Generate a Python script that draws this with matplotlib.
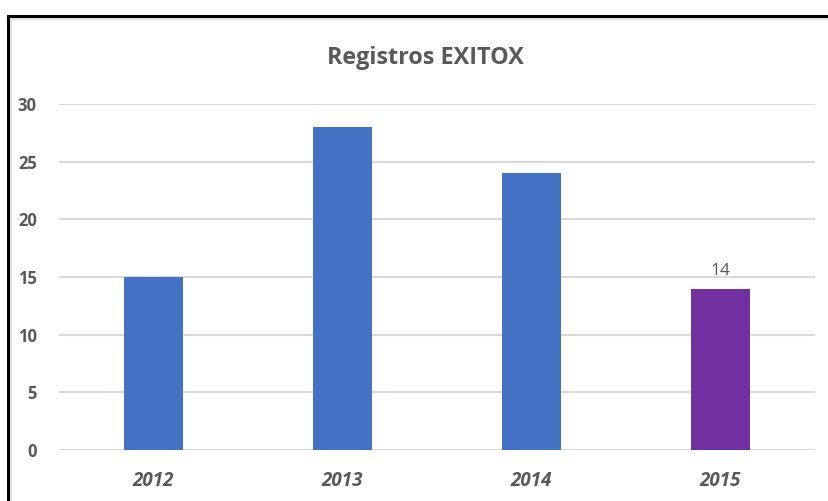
"""Bar chart: Registros EXITOX."""

import matplotlib.pyplot as plt
from matplotlib.lines import Line2D

years = ["2012", "2013", "2014", "2015"]
registros = [15, 28, 24, 14]
colors = ["#4472C4", "#4472C4", "#4472C4", "#7030A0"]
labelled = [False, False, False, True]

plt.rcParams["font.family"] = ["Open Sans", "DejaVu Sans"]
gray = "#595959"

fig = plt.figure(figsize=(8.29, 5.01), dpi=100)
ax = fig.add_axes([0.0712, 0.1018, 0.9118, 0.6906])

x = range(len(years))
bars = ax.bar(x, registros, width=0.31, color=colors, zorder=3)
for rect, val, show in zip(bars, registros, labelled):
    if show:
        ax.annotate(str(val), (rect.get_x() + rect.get_width() / 2, val),
                    xytext=(0, 7), textcoords="offset points",
                    ha="center", va="bottom", fontsize=12.5, color=gray)

ax.set_xlim(-0.5, len(years) - 0.5)
ax.set_ylim(0, 30)
ax.set_yticks(range(0, 31, 5))
ax.set_xticks(list(x))
ax.set_xticklabels(years, fontsize=13.5, fontweight="bold", style="italic", color=gray)
ax.tick_params(axis="y", labelsize=12, labelcolor=gray, length=0, pad=16)
ax.tick_params(axis="x", length=0, pad=15)
for lab in ax.get_yticklabels():
    lab.set_fontweight("bold")
ax.grid(axis="y", color="#D9D9D9", linewidth=1.5, zorder=0)
for s in ax.spines.values():
    s.set_visible(False)

fig.text(0.513, 0.884, "Registros EXITOX", ha="center", va="center",
         fontsize=16.8, fontweight="bold", color=gray)

# chart frame: black top/left edges with light inner line
fig.add_artist(Line2D([8.5 / 829, 8.5 / 829], [0, 1 - 16 / 501],
                      transform=fig.transFigure, color="black", linewidth=2.2))
fig.add_artist(Line2D([8 / 829, 1], [1 - 16 / 501, 1 - 16 / 501],
                      transform=fig.transFigure, color="black", linewidth=2.2))
fig.add_artist(Line2D([11 / 829, 1], [1 - 18.5 / 501, 1 - 18.5 / 501],
                      transform=fig.transFigure, color="#D9D9D9", linewidth=1.2))
fig.add_artist(Line2D([11 / 829, 11 / 829], [0, 1 - 18.5 / 501],
                      transform=fig.transFigure, color="#D9D9D9", linewidth=1.2))

fig.savefig("out.png", dpi=100)
plt.close(fig)
